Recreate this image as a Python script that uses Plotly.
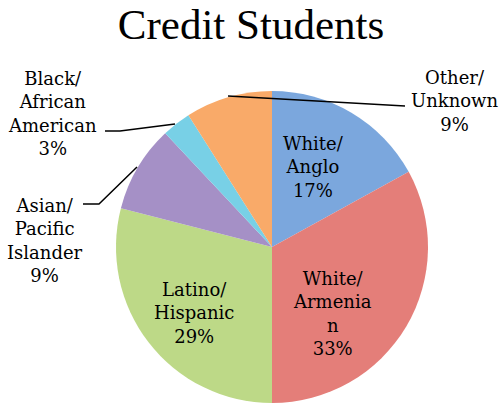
import plotly.graph_objects as go

# ---- data ----
categories = ["White/Anglo", "White/Armenian", "Latino/Hispanic",
              "Asian/Pacific Islander", "Black/African American", "Other/Unknown"]
values = [17, 33, 29, 9, 3, 9]
label_text = ["White/<br>Anglo", "White/<br>Armenia<br>n", "Latino/<br>Hispanic",
              "Asian/<br>Pacific<br>Islander", "Black/<br>African<br>American", "Other/<br>Unknown"]
colors = ["#7ba7dd", "#e47e79", "#bdd987", "#a590c6", "#78d0e6", "#f9aa69"]
title_text = "Credit Students"

W, H = 502, 404
cx, cy, r = 272, 247, 156

fig = go.Figure()
fig.add_trace(go.Pie(
    labels=categories, values=values, sort=False, direction="clockwise",
    rotation=0, textinfo="none", hoverinfo="skip",
    marker=dict(colors=colors, line=dict(width=0)),
    domain=dict(x=[(cx - r) / W, (cx + r) / W], y=[(H - cy - r) / H, (H - cy + r) / H]),
    showlegend=False,
))

# label positions (pixel centers) - layout only
label_pos = [(313, 167), (332, 313), (194, 313), (45, 240), (52, 113), (455, 101)]
font = dict(family="DejaVu Serif", size=18, color="#000000")
for txt, v, (px, py) in zip(label_text, values, label_pos):
    fig.add_annotation(text=f"{txt}<br>{v}%", x=px / W, y=1 - py / H, xref="paper", yref="paper",
                       showarrow=False, font=font, align="center", xanchor="center", yanchor="middle")

# leader lines (pixel paths)
leaders = [
    [(228, 96), (405, 106)],
    [(105, 131), (120, 131), (175, 124)],
    [(83, 204), (99, 204), (137, 167)],
]
for pts in leaders:
    path = "M " + " L ".join(f"{x / W:.5f},{1 - y / H:.5f}" for x, y in pts)
    fig.add_shape(type="path", path=path, xref="paper", yref="paper",
                  line=dict(color="black", width=1.5))

fig.update_layout(
    width=W, height=H, margin=dict(l=0, r=0, t=0, b=0),
    paper_bgcolor="white", plot_bgcolor="white",
    title=dict(text=title_text, x=0.5, xanchor="center", y=1 - 24 / H, yanchor="middle",
               font=dict(family="Liberation Serif", size=43, color="#000000")),
)
fig.write_html("out.html", config={"displayModeBar": False},
               post_script="document.body.style.margin='0';document.body.style.overflow='hidden';")
